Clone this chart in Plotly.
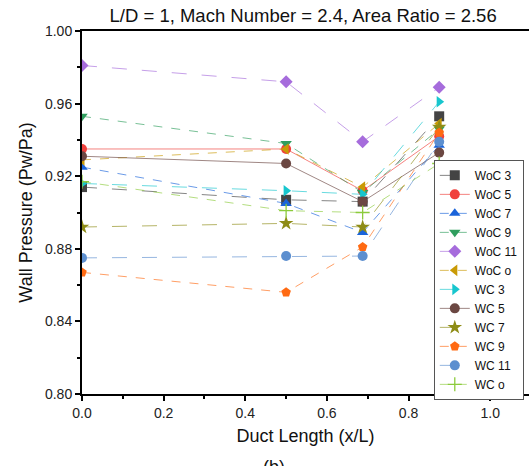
import plotly.graph_objects as go

# Axial stations along the duct (x/L)
duct_x = [0.0, 0.5, 0.6875, 0.875]

series_names = ["WoC 3", "WoC 5", "WoC 7", "WoC 9", "WoC 11", "WoC o",
                "WC 3", "WC 5", "WC 7", "WC 9", "WC 11", "WC o"]

# Wall pressure ratio Pw/Pa at each station
woc_3 = [0.914, 0.907, 0.906, 0.953]
woc_5 = [0.935, 0.935, 0.912, 0.942]
woc_7 = [0.925, 0.905, 0.889, 0.937]
woc_9 = [0.953, 0.938, 0.911, 0.946]
woc_11 = [0.981, 0.972, 0.939, 0.969]
woc_o = [0.929, 0.935, 0.914, 0.949]
wc_3 = [0.916, 0.912, 0.910, 0.961]
wc_5 = [0.931, 0.927, 0.906, 0.933]
wc_7 = [0.892, 0.894, 0.892, 0.947]
wc_9 = [0.867, 0.856, 0.881, 0.944]
wc_11 = [0.875, 0.876, 0.876, 0.939]
wc_o = [0.917, 0.901, 0.900, 0.927]

x_ticks = [0.0, 0.2, 0.4, 0.6, 0.8, 1.0]
y_ticks = [0.80, 0.84, 0.88, 0.92, 0.96, 1.00]

values = [woc_3, woc_5, woc_7, woc_9, woc_11, woc_o,
          wc_3, wc_5, wc_7, wc_9, wc_11, wc_o]

styles = [
    ("#444444", "square", "longdash"),
    ("#F0403C", "circle", "solid"),
    ("#1A64DA", "triangle-up", "dash"),
    ("#2F9E5E", "triangle-down", "dash"),
    ("#A66CDC", "diamond", "longdash"),
    ("#C99A05", "triangle-left", "dash"),
    ("#17C6CE", "triangle-right", "longdash"),
    ("#6B4742", "circle", "solid"),
    ("#8E8C16", "star", "longdash"),
    ("#FF6A12", "pentagon", "dash"),
    ("#5D8FCF", "circle", "longdash"),
    ("#8CCB3C", "cross-thin", "dash"),
]


def faded(hex_color, alpha):
    h = hex_color.lstrip("#")
    r, g, b = int(h[0:2], 16), int(h[2:4], 16), int(h[4:6], 16)
    return f"rgba({r},{g},{b},{alpha})"


fig = go.Figure()
for name, ys, (color, symbol, dash) in zip(series_names, values, styles):
    marker = dict(symbol=symbol, size=10, color=color, line=dict(width=0))
    if symbol == "cross-thin":
        marker = dict(symbol=symbol, size=10, color=color,
                      line=dict(width=1.3, color=color))
    if symbol == "star":
        marker["size"] = 11
    fig.add_trace(go.Scatter(
        x=duct_x, y=ys, name=name, mode="lines+markers",
        line=dict(color=faded(color, 0.65), width=1.0, dash=dash),
        marker=marker,
    ))

axis_font = dict(family="Arial, Liberation Sans, sans-serif", size=14, color="#222222")
label_font = dict(family="Arial, Liberation Sans, sans-serif", size=18, color="#111111")

fig.update_layout(
    width=529, height=466,
    margin=dict(l=82, r=0, t=31, b=72),
    paper_bgcolor="white", plot_bgcolor="white",
    font=dict(family="Arial, Liberation Sans, sans-serif", color="#111111"),
    title=dict(text="L/D = 1, Mach Number = 2.4, Area Ratio = 2.56",
               x=0.573, xanchor="center", y=0.966, yanchor="middle",
               font=dict(size=18.5, color="#111111")),
    showlegend=True,
    legend=dict(x=0.787, y=0.645, xanchor="left", yanchor="top",
                bgcolor="white", bordercolor="#555555", borderwidth=1,
                font=dict(size=12, color="#111111"),
                itemwidth=30, tracegroupgap=0),
    xaxis=dict(
        range=[0, 1.095], tickvals=x_ticks,
        ticktext=[f"{v:.1f}" for v in x_ticks],
        ticks="outside", ticklen=5, tickwidth=1.5, tickcolor="black",
        minor=dict(dtick=0.1, tick0=0, ticks="outside", ticklen=3, tickcolor="black"),
        showline=True, linecolor="black", linewidth=2, mirror=True,
        showgrid=False, zeroline=False, tickfont=axis_font,
        title=dict(text="Duct Length (x/L)", font=label_font, standoff=10),
    ),
    yaxis=dict(
        range=[0.80, 1.00], tickvals=y_ticks,
        ticktext=[f"{v:.2f}" for v in y_ticks],
        ticks="outside", ticklen=5, tickwidth=1.5, tickcolor="black",
        minor=dict(dtick=0.02, tick0=0.8, ticks="outside", ticklen=3, tickcolor="black"),
        showline=True, linecolor="black", linewidth=2, mirror=False,
        showgrid=False, zeroline=False, tickfont=axis_font,
        title=dict(text="Wall Pressure (Pw/Pa)", font=label_font, standoff=8),
    ),
)

fig.add_annotation(text="(b)", xref="paper", yref="paper",
                   x=0.43, y=-0.168, xanchor="center", yanchor="top",
                   showarrow=False, font=dict(size=18, color="#111111"))

fig.write_html("out.html")
